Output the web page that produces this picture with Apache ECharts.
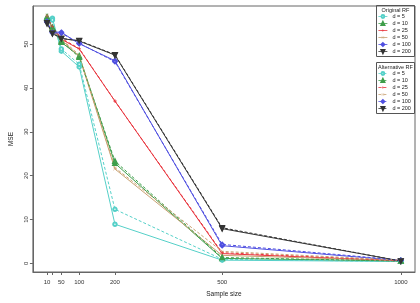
<!DOCTYPE html>
<html>
<head>
<meta charset="utf-8">
<script src="https://cdn.jsdelivr.net/npm/echarts@6/dist/echarts.min.js"></script>
<style>
  html, body { margin: 0; padding: 0; background: #fff; }
  #chart { width: 420px; height: 303px; }
</style>
</head>
<body>
<div id="chart"></div>
<script>
// sample sizes on the x axis
const sampleSizes = [10, 25, 50, 100, 200, 500, 1000];
const xLabelValues = [10, 50, 100, 200, 500, 1000];
const yLabelValues = [0, 10, 20, 30, 40, 50];
const dims = ['d = 5', 'd = 10', 'd = 25', 'd = 50', 'd = 100', 'd = 200'];

// MSE, original RF
const orig5 = [55.5, 55.9, 48.4, 44.8, 8.9, 0.7, 0.4];
const orig10 = [56.0, 53.5, 50.4, 47.3, 22.8, 1.1, 0.5];
const orig25 = [56.3, 53.8, 51.1, 48.9, 37.0, 2.2, 0.5];
const orig50 = [56.6, 53.2, 51.0, 47.2, 21.5, 1.8, 0.6];
const orig100 = [55.0, 52.8, 52.7, 50.1, 46.2, 4.0, 0.6];
const orig200 = [54.7, 52.4, 51.3, 50.7, 47.5, 7.9, 0.5];

// MSE, alternative RF
const alt5 = [55.8, 55.5, 48.9, 45.4, 12.3, 0.9, 0.4];
const alt10 = [56.2, 53.8, 50.7, 47.0, 23.3, 1.3, 0.5];
const alt25 = [56.4, 54.0, 51.3, 49.0, 37.0, 2.4, 0.6];
const alt50 = [56.5, 53.0, 51.2, 47.5, 21.8, 2.7, 0.7];
const alt100 = [55.2, 52.6, 52.5, 50.2, 46.0, 4.3, 0.7];
const alt200 = [54.9, 52.5, 51.3, 50.8, 47.6, 8.1, 0.5];

const colors = ['#55d0c8', '#3e9e4a', '#e8333c', '#c8a070', '#4f4fe0', '#333333'];
const plusPath = 'path://M4.3,0h1.4v10h-1.4z M0,4.3h10v1.4h-10z';
const crossPath = 'path://M0.5,0L5,4.5L9.5,0L10,0.5L5.5,5L10,9.5L9.5,10L5,5.5L0.5,10L0,9.5L4.5,5L0,0.5z';
const symbols = ['emptyCircle', 'emptyTriangle', plusPath, crossPath, 'emptyDiamond', 'emptyTriangle'];
const rotations = [0, 0, 0, 0, 0, 180];

const origData = [orig5, orig10, orig25, orig50, orig100, orig200];
const altData = [alt5, alt10, alt25, alt50, alt100, alt200];

function makeSeries(prefix, data, dashed) {
    return data.map((vals, i) => ({
        name: prefix + ' ' + dims[i],
        type: 'line',
        data: sampleSizes.map((x, j) => [x, vals[j]]),
        symbol: symbols[i],
        symbolRotate: rotations[i],
        symbolSize: 3.5,
        symbolKeepAspect: true,
        showSymbol: true,
        itemStyle: { color: colors[i], borderWidth: 0.8 },
        lineStyle: { color: colors[i], width: 1, type: dashed ? [3, 2] : 'solid' },
        emphasis: { disabled: true },
        animation: false
    }));
}

const series = makeSeries('Original', origData, false).concat(makeSeries('Alternative', altData, true));

function makeLegend(prefix, top) {
    return {
        data: dims.map(d => prefix + ' ' + d),
        orient: 'vertical',
        left: 378,
        top: top,
        padding: 0,
        itemWidth: 9,
        itemHeight: 3.5,
        itemGap: 1,
        selectedMode: false,
        symbolKeepAspect: true,
        itemStyle: { borderWidth: 0.8 },
        lineStyle: { width: 0.8 },
        formatter: name => name.replace(prefix + ' ', ''),
        textStyle: { fontSize: 5.5, lineHeight: 6, color: '#222', fontFamily: 'Liberation Sans', padding: 0 }
    };
}

const chart = echarts.init(document.getElementById('chart'));
chart.setOption({
    animation: false,
    textStyle: { fontFamily: 'Liberation Sans' },
    grid: {
        left: 25, right: 5, top: 6, bottom: 26,
        show: true, borderColor: '#666', borderWidth: 1, containLabel: false
    },
    xAxis: {
        type: 'value',
        min: -29.6,
        max: 1039.6,
        name: 'Sample size',
        nameLocation: 'middle',
        nameGap: 19,
        nameTextStyle: { fontSize: 6.5, color: '#222' },
        axisLine: { show: true, onZero: false, lineStyle: { color: '#666', width: 1 } },
        axisTick: { show: true, length: 3, customValues: sampleSizes, lineStyle: { color: '#666' } },
        axisLabel: { customValues: xLabelValues, fontSize: 6, color: '#333', margin: 7, formatter: v => String(v) },
        splitLine: { show: false }
    },
    yAxis: {
        type: 'value',
        min: -2,
        max: 58.7,
        name: 'MSE',
        nameLocation: 'middle',
        nameGap: 17,
        nameTextStyle: { fontSize: 6.5, color: '#222' },
        axisLine: { show: true, onZero: false, lineStyle: { color: '#666', width: 1 } },
        axisTick: { show: true, length: 3, customValues: yLabelValues, lineStyle: { color: '#666' } },
        axisLabel: { customValues: yLabelValues, fontSize: 6, color: '#333', rotate: 90, margin: 4, formatter: v => String(v) },
        splitLine: { show: false }
    },
    legend: [makeLegend('Original', 13.5), makeLegend('Alternative', 70.5)],
    graphic: [
        { type: 'rect', shape: { x: 376.5, y: 5.5, width: 38, height: 51 }, style: { fill: 'none', stroke: '#555', lineWidth: 1 }, z: 100 },
        { type: 'text', x: 395.5, y: 7.5, style: { text: 'Original RF', fontSize: 5.5, fill: '#222', align: 'center', fontFamily: 'Liberation Sans' }, z: 100 },
        { type: 'rect', shape: { x: 376.5, y: 62.5, width: 38, height: 51 }, style: { fill: 'none', stroke: '#555', lineWidth: 1 }, z: 100 },
        { type: 'text', x: 395.5, y: 64.5, style: { text: 'Alternative RF', fontSize: 5.5, fill: '#222', align: 'center', fontFamily: 'Liberation Sans' }, z: 100 }
    ],
    series: series
});
</script>
</body>
</html>
